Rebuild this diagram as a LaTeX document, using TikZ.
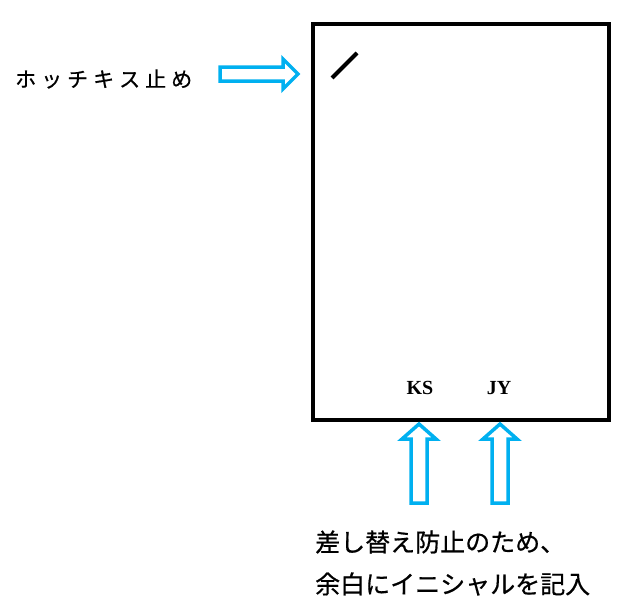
\documentclass[tikz,border=0pt]{standalone}
\usepackage{fontspec}
\setmainfont{Liberation Serif}
\newfontfamily\cjk[FakeBold=0.6]{Noto Sans CJK JP}
\begin{document}
\begin{tikzpicture}[x=1pt,y=-1pt,
  hollowarrow/.style={line width=3.5pt, fill=white, line join=miter},
  jtext/.style={font=\cjk\fontsize{21}{23}\selectfont, anchor=west, inner sep=0pt},
  ntext/.style={font=\cjk\fontsize{25}{27}\selectfont, anchor=west, inner sep=0pt},
  initial/.style={font=\fontsize{20}{22}\selectfont\bfseries, inner sep=0pt}]
\definecolor{arrowblue}{RGB}{0,176,240}
\useasboundingbox (0,0) rectangle (631,614);
% sheet
\node[draw, line width=4pt, minimum width=296pt, minimum height=396pt, inner sep=0pt] (sheet) at (461,222) {};
% staple
\draw[line width=4pt] (332,78) -- (357,53);
% left label and arrow
\node[jtext] (staple) at (15,79) {ホ\hspace{5pt}ッ\hspace{5pt}チ\hspace{5pt}キ\hspace{5pt}ス\hspace{5pt}止\hspace{5pt}め};
\draw[hollowarrow, draw=arrowblue] (220,67) -- (283,67) -- (283,59) -- (298,74) -- (283,89) -- (283,81) -- (220,81) -- cycle;
% initials
\node[initial] (ks) at (420,388) {KS};
\node[initial] (jy) at (499,388) {JY};
% up arrows
\draw[hollowarrow, draw=arrowblue] (411,503) -- (411,439) -- (402,439) -- (419,424) -- (436,439) -- (427,439) -- (427,503) -- cycle;
\draw[hollowarrow, draw=arrowblue] (492,503) -- (492,439) -- (483,439) -- (500,424) -- (517,439) -- (508,439) -- (508,503) -- cycle;
% bottom texts
\node[ntext] (note1) at (315,542) {差し替え防止のため、};
\node[ntext] (note2) at (315,584) {余白にイニシャルを記入};
\end{tikzpicture}
\end{document}
